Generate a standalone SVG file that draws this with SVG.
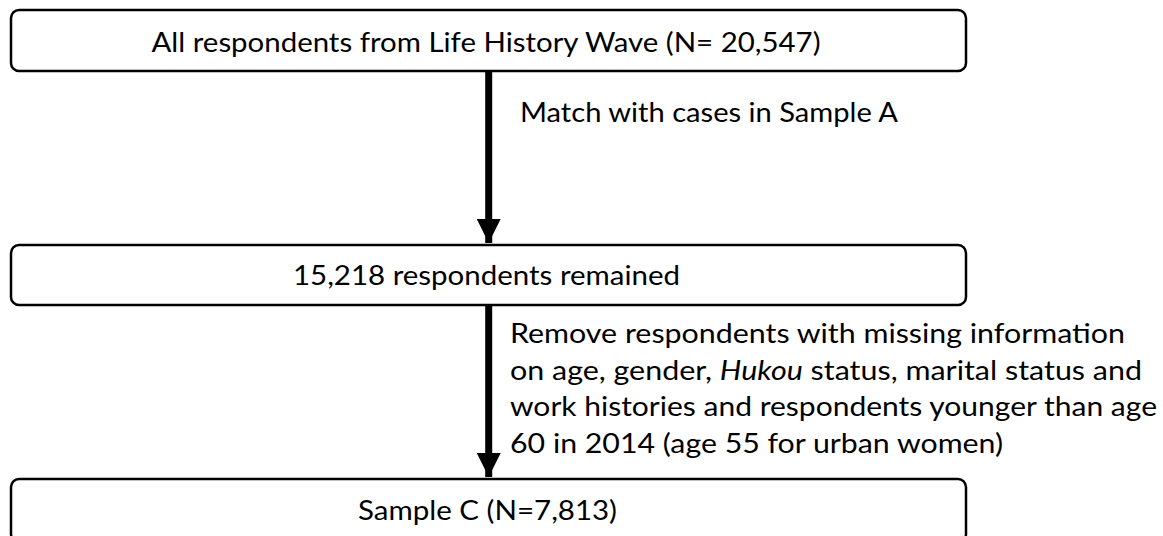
<svg xmlns="http://www.w3.org/2000/svg" width="1163" height="536" viewBox="0 0 1163 536">
<style>
.box{fill:#fff;stroke:#000;stroke-width:2.5}
.t{font-family:Lato,"Liberation Sans",sans-serif;font-size:27px;fill:#000}
.c{text-anchor:middle}
.conn{stroke:#000;stroke-width:7;fill:none}
</style>
<defs>
<marker id="ah" markerUnits="userSpaceOnUse" markerWidth="24" markerHeight="24" viewBox="0 0 24 24" refX="24" refY="12" orient="auto">
<path d="M0,0 L24,12 L0,24 Z" fill="#000"/>
</marker>
</defs>
<rect width="1163" height="536" fill="#fff"/>
<g id="connectors">
<line class="conn" x1="488.7" y1="71" x2="488.7" y2="243" marker-end="url(#ah)"/>
<line class="conn" x1="488.7" y1="305" x2="488.7" y2="477" marker-end="url(#ah)"/>
<text class="t" x="520" y="122" textLength="378" lengthAdjust="spacingAndGlyphs">Match with cases in Sample A</text>
<text class="t" x="510" y="343" textLength="615" lengthAdjust="spacingAndGlyphs">Remove respondents with missing information</text>
<text class="t" x="510" y="379.5" textLength="632" lengthAdjust="spacingAndGlyphs">on age, gender, <tspan font-style="italic">Hukou</tspan> status, marital status and</text>
<text class="t" x="510" y="416" textLength="647" lengthAdjust="spacingAndGlyphs">work histories and respondents younger than age</text>
<text class="t" x="510" y="452.5" textLength="493" lengthAdjust="spacingAndGlyphs">60 in 2014 (age 55 for urban women)</text>
</g>
<g id="n1">
<rect class="box" x="11" y="10" width="955" height="61" rx="8"/>
<text class="t c" x="486" y="52" textLength="669" lengthAdjust="spacingAndGlyphs">All respondents from Life History Wave (N= 20,547)</text>
</g>
<g id="n2">
<rect class="box" x="11" y="245" width="955" height="60" rx="8"/>
<text class="t c" x="486.5" y="285" textLength="387" lengthAdjust="spacingAndGlyphs">15,218 respondents remained</text>
</g>
<g id="n3">
<rect class="box" x="11" y="479" width="955" height="63" rx="8"/>
<text class="t c" x="487.5" y="520" textLength="259" lengthAdjust="spacingAndGlyphs">Sample C (N=7,813)</text>
</g>
</svg>
